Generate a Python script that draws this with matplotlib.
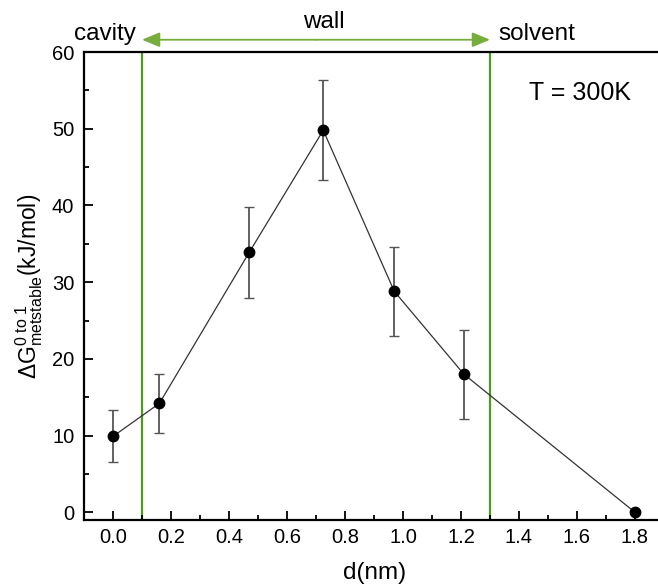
import matplotlib
matplotlib.use("Agg")
import matplotlib.pyplot as plt
from matplotlib.ticker import MultipleLocator

plt.rcParams['font.family'] = ['Liberation Sans', 'DejaVu Sans']
plt.rcParams['mathtext.fontset'] = 'custom'
plt.rcParams['mathtext.rm'] = 'Liberation Sans'
plt.rcParams['mathtext.it'] = 'Liberation Sans:italic'

# data
d_nm = [0.0, 0.16, 0.47, 0.725, 0.97, 1.21, 1.8]
dG = [9.9, 14.2, 33.9, 49.8, 28.8, 18.0, 0.0]
dG_err = [3.4, 3.8, 5.9, 6.5, 5.8, 5.8, 0.0]
wall_edges = [0.1, 1.3]
region_labels = ['cavity', 'wall', 'solvent']

green_line = '#4f9a1c'
green_arrow = '#76ad3c'

fig = plt.figure(figsize=(6.58, 5.87), dpi=100)
# axes runs off the right edge of the figure like the reference
ax = fig.add_axes([84 / 658, 67 / 587, 594.5 / 658, 468 / 587])

ax.errorbar(d_nm, dG, yerr=dG_err, fmt='o', color='black', markersize=7.5,
            ecolor='#555555', elinewidth=1.3, capsize=3.5, capthick=1.0, zorder=3)
ax.plot(d_nm, dG, '-', color='#333333', linewidth=0.9, zorder=2)

for xe in wall_edges:
    ax.axvline(xe, color=green_line, linewidth=1.6, zorder=1)

ax.set_xlim(-0.1, 1.95)
ax.set_ylim(-1, 60)

# double headed arrow over the wall region, drawn as two halves
mid = sum(wall_edges) / 2
for xe in wall_edges:
    ax.annotate('', xy=(xe, 61.6), xytext=(mid, 61.6),
                arrowprops=dict(arrowstyle='-|>,head_length=0.6,head_width=0.25',
                                color=green_arrow, lw=1.3, mutation_scale=18,
                                shrinkA=0, shrinkB=0),
                annotation_clip=False)

ax.text(-0.028, 62.4, region_labels[0], ha='center', va='center', fontsize=17.5)
ax.text(0.727, 63.9, region_labels[1], ha='center', va='center', fontsize=17.5)
ax.text(1.462, 62.4, region_labels[2], ha='center', va='center', fontsize=17.5)
ax.text(1.61, 54.6, 'T = 300K', ha='center', va='center', fontsize=18)

ax.xaxis.set_major_locator(MultipleLocator(0.2))
ax.xaxis.set_minor_locator(MultipleLocator(0.1))
ax.yaxis.set_major_locator(MultipleLocator(10))
ax.yaxis.set_minor_locator(MultipleLocator(5))
ax.set_xticks([0.0, 0.2, 0.4, 0.6, 0.8, 1.0, 1.2, 1.4, 1.6, 1.8])
ax.set_xticklabels(['0.0', '0.2', '0.4', '0.6', '0.8', '1.0', '1.2', '1.4', '1.6', '1.8'])

ax.tick_params(which='both', direction='in', width=1.3, labelsize=14.5, top=False, right=False)
ax.tick_params(which='major', length=6.5)
ax.tick_params(axis='x', which='major', pad=6)
ax.tick_params(axis='y', which='major', pad=7)
ax.tick_params(which='minor', length=3.8)

for s in ['left', 'bottom', 'top']:
    ax.spines[s].set_linewidth(1.6)
ax.spines['right'].set_visible(False)

ax.set_xlabel('d(nm)', fontsize=17.5)
ax.xaxis.set_label_coords((375 - 84) / 594.5, -0.09)
ax.set_ylabel(r'$\Delta\mathrm{G}^{0\ \mathrm{to}\ 1}_{\mathrm{metstable}}$(kJ/mol)', fontsize=16.5)
ax.yaxis.set_label_coords(-0.066, 0.5)

plt.savefig('out.png', dpi=100)
plt.close()
